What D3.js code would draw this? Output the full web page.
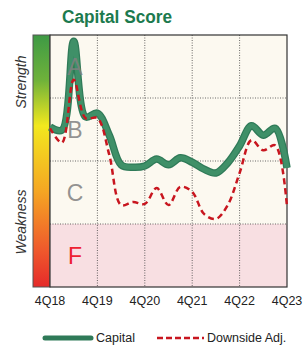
<!DOCTYPE html>
<html>
<head>
<meta charset="utf-8">
<script src="https://cdn.jsdelivr.net/npm/d3@7"></script>
<style>
  body { margin: 0; background: #fff; }
  svg { display: block; font-family: "Liberation Sans", Arial, sans-serif; }
</style>
</head>
<body>
<svg id="chart" width="303" height="347"></svg>
<script>
// quarterly scores, 4Q18 .. 4Q23 (0 = bottom of F, 4 = top of A)
const quarters = d3.range(21);
const capital = [2.54, 2.49, 3.90, 2.70, 2.76, 2.41, 1.94, 1.90, 1.92, 2.03, 1.94,
                 2.05, 1.98, 1.87, 1.81, 1.97, 2.24, 2.56, 2.41, 2.52, 1.89];
const downside = [2.52, 2.29, 3.29, 2.68, 2.68, 2.10, 1.30, 1.35, 1.32, 1.57, 1.30,
                  1.59, 1.51, 1.16, 1.08, 1.30, 1.81, 2.33, 2.17, 2.25, 1.27];
const tickLabels = ["4Q18", "4Q19", "4Q20", "4Q21", "4Q22", "4Q23"];
const grades = ["F", "C", "B", "A"];

const svg = d3.select("#chart");
const pLeft = 50, pRight = 287, pTop = 35, pBottom = 287;

const x = d3.scaleLinear().domain([0, 20]).range([pLeft, pRight]);
const y = d3.scaleLinear().domain([0, 4]).range([pBottom, pTop]);

// gradient strip
const defs = svg.append("defs");
const grad = defs.append("linearGradient").attr("id", "strip")
    .attr("x1", 0).attr("y1", 0).attr("x2", 0).attr("y2", 1);
grad.append("stop").attr("offset", "0%").attr("stop-color", "#3e9a45");
grad.append("stop").attr("offset", "18%").attr("stop-color", "#6fb23a");
grad.append("stop").attr("offset", "36%").attr("stop-color", "#f2e81e");
grad.append("stop").attr("offset", "62%").attr("stop-color", "#f5a623");
grad.append("stop").attr("offset", "85%").attr("stop-color", "#ef5a2c");
grad.append("stop").attr("offset", "100%").attr("stop-color", "#e52a2a");

svg.append("rect")
    .attr("x", 33).attr("y", pTop).attr("width", pLeft - 33).attr("height", pBottom - pTop)
    .attr("fill", "url(#strip)").attr("stroke", "#555").attr("stroke-width", 1);

// plot background
svg.append("rect")
    .attr("x", pLeft).attr("y", pTop).attr("width", pRight - pLeft).attr("height", pBottom - pTop)
    .attr("fill", "#fcf9f0");
svg.append("rect")
    .attr("x", pLeft).attr("y", y(1)).attr("width", pRight - pLeft).attr("height", y(0) - y(1))
    .attr("fill", "#f8dfe2");

// grid
svg.append("g").selectAll("line").data([1, 2, 3]).join("line")
    .attr("x1", pLeft).attr("x2", pRight)
    .attr("y1", d => y(d)).attr("y2", d => y(d))
    .attr("stroke", "#444").attr("stroke-width", 0.8).attr("stroke-dasharray", "1,1.5");
svg.append("g").selectAll("line").data([4, 8, 12, 16]).join("line")
    .attr("x1", d => x(d)).attr("x2", d => x(d))
    .attr("y1", pTop).attr("y2", pBottom)
    .attr("stroke", "#444").attr("stroke-width", 0.8).attr("stroke-dasharray", "1,1.5");

svg.append("rect")
    .attr("x", pLeft).attr("y", pTop).attr("width", pRight - pLeft).attr("height", pBottom - pTop)
    .attr("fill", "none").attr("stroke", "#333").attr("stroke-width", 1.2);

// lines
const line = d3.line()
    .x((d, i) => x(quarters[i]))
    .y(d => y(d))
    .curve(d3.curveCatmullRom.alpha(0.5));

svg.append("path").datum(capital)
    .attr("d", line).attr("fill", "none")
    .attr("stroke", "#2f7a58").attr("stroke-width", 7.5).attr("stroke-linejoin", "round");
svg.append("path").datum(capital)
    .attr("d", line).attr("fill", "none")
    .attr("stroke", "#3f9068").attr("stroke-width", 5).attr("stroke-linejoin", "round");

// grade letters (drawn over the capital line, under the dashed one)
svg.append("g").selectAll("text").data(grades).join("text")
    .attr("x", 75)
    .attr("y", (d, i) => y(i + 0.5) + 8)
    .attr("text-anchor", "middle")
    .attr("font-size", 23)
    .attr("fill", d => d === "F" ? "#ee2233" : "#808080")
    .attr("fill-opacity", d => d === "F" ? 1 : 0.85)
    .text(d => d);

svg.append("path").datum(downside)
    .attr("d", line).attr("fill", "none")
    .attr("stroke", "#c8161f").attr("stroke-width", 2.5)
    .attr("stroke-dasharray", "6,4");

// x tick labels
svg.append("g").selectAll("text").data(tickLabels).join("text")
    .attr("x", (d, i) => x(i * 4))
    .attr("y", 305)
    .attr("text-anchor", "middle")
    .attr("font-size", 12.5)
    .attr("fill", "#222")
    .text(d => d);

// title
svg.append("text")
    .attr("x", 117).attr("y", 23)
    .attr("text-anchor", "middle")
    .attr("font-size", 18).attr("font-weight", "bold")
    .attr("fill", "#1c7a4e")
    .attr("textLength", 110).attr("lengthAdjust", "spacingAndGlyphs")
    .text("Capital Score");

// side labels
svg.append("text")
    .attr("transform", "translate(26,82) rotate(-90)")
    .attr("text-anchor", "middle")
    .attr("font-size", 14).attr("font-style", "italic").attr("fill", "#333")
    .text("Strength");
svg.append("text")
    .attr("transform", "translate(26,222) rotate(-90)")
    .attr("text-anchor", "middle")
    .attr("font-size", 14).attr("font-style", "italic").attr("fill", "#333")
    .text("Weakness");

// legend
svg.append("line")
    .attr("x1", 45).attr("x2", 91).attr("y1", 338).attr("y2", 338)
    .attr("stroke", "#2f7a58").attr("stroke-width", 5).attr("stroke-linecap", "round");
svg.append("text")
    .attr("x", 96).attr("y", 342).attr("font-size", 12.5).attr("fill", "#222")
    .text("Capital");
svg.append("line")
    .attr("x1", 157).attr("x2", 204).attr("y1", 338).attr("y2", 338)
    .attr("stroke", "#c8161f").attr("stroke-width", 2.5).attr("stroke-dasharray", "6,3");
svg.append("text")
    .attr("x", 207).attr("y", 342).attr("font-size", 12.5).attr("fill", "#222")
    .text("Downside Adj.");
</script>
</body>
</html>
